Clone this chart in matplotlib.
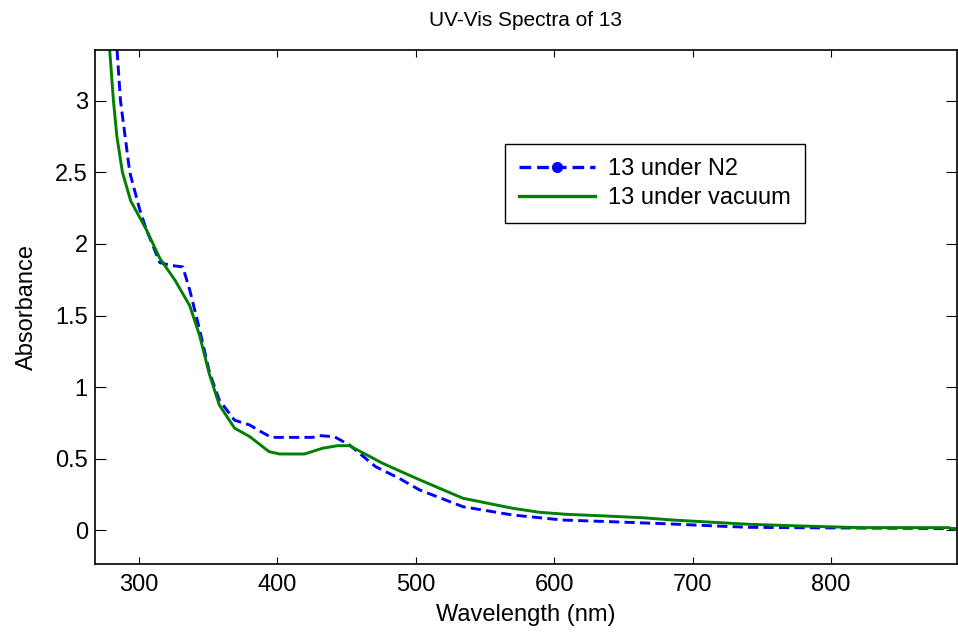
import matplotlib
matplotlib.use("Agg")
import matplotlib.pyplot as plt
from matplotlib.lines import Line2D

# UV-Vis spectra of compound 13
wl_n2 = [284.1, 286.6, 293.3, 300.5, 305.3, 315.0, 323.0, 331.6, 336.6, 343.8,
         351.0, 358.0, 369.0, 380.0, 388.0, 395.6, 410.0, 425.4, 430.5, 441.0,
         452.0, 471.0, 488.0, 502.7, 534.0, 570.0, 606.0, 642.0, 685.6, 720.0,
         741.0, 800.0, 860.0, 891.0]
abs_n2 = [3.354, 3.00, 2.50, 2.24, 2.10, 1.87, 1.85, 1.84, 1.68, 1.40,
          1.10, 0.91, 0.77, 0.736, 0.69, 0.650, 0.650, 0.650, 0.662, 0.655,
          0.597, 0.445, 0.364, 0.283, 0.166, 0.108, 0.073, 0.061, 0.045, 0.030,
          0.022, 0.018, 0.015, 0.012]

wl_vac = [278.8, 281.5, 284.0, 288.0, 294.0, 305.3, 315.0, 325.8, 336.6, 343.8,
          351.0, 358.0, 369.0, 380.0, 394.0, 401.6, 419.6, 432.6, 443.5, 452.0,
          476.0, 500.3, 534.0, 570.0, 589.3, 608.6, 637.5, 664.0, 685.6, 741.0,
          779.4, 820.0, 885.0, 891.0]
abs_vac = [3.354, 3.00, 2.75, 2.50, 2.30, 2.10, 1.90, 1.75, 1.57, 1.36,
           1.085, 0.876, 0.715, 0.655, 0.55, 0.534, 0.534, 0.574, 0.592, 0.592,
           0.469, 0.364, 0.225, 0.155, 0.127, 0.113, 0.101, 0.089, 0.073, 0.043,
           0.031, 0.020, 0.020, 0.003]

x_ticks = [300, 400, 500, 600, 700, 800]
y_ticks = [0, 0.5, 1, 1.5, 2, 2.5, 3]
y_tick_labels = ["0", "0.5", "1", "1.5", "2", "2.5", "3"]

plt.rcParams['font.family'] = ['Liberation Sans', 'DejaVu Sans']

fig = plt.figure(figsize=(9.58, 6.36), dpi=100)
ax = fig.add_axes([0.0989, 0.1132, 0.9, 0.8082])

ax.plot(wl_n2, abs_n2, color='#0000ff', linestyle=(0, (3.5, 1.8)), linewidth=2.1)
ax.plot(wl_vac, abs_vac, color='#008000', linestyle='-', linewidth=2.1)

ax.set_xlim(268, 891)
ax.set_ylim(-0.234, 3.354)
ax.set_xticks(x_ticks)
ax.set_xticklabels([str(v) for v in x_ticks])
ax.set_yticks(y_ticks)
ax.set_yticklabels(y_tick_labels)
ax.tick_params(axis='both', direction='in', top=True, right=True,
               labelsize=17, width=0.8, color='black')
ax.tick_params(axis='x', length=5, pad=7)
ax.tick_params(axis='y', length=8, pad=5)
for sp in ax.spines.values():
    sp.set_linewidth(1.2)
    sp.set_color('black')

ax.set_title('UV-Vis Spectra of 13', fontsize=15, pad=17)
ax.set_xlabel('Wavelength (nm)', fontsize=17, labelpad=6)
ax.set_ylabel('Absorbance', fontsize=17, labelpad=12)

handles = [
    Line2D([], [], color='#0000ff', linestyle=(0, (3.5, 1.8)), linewidth=2.4,
           marker='o', markersize=7),
    Line2D([], [], color='#008000', linestyle='-', linewidth=2.4),
]
leg = ax.legend(handles, ['13 under N2', '13 under vacuum'], fontsize=17,
                loc='upper left', bbox_to_anchor=(0.4758, 0.8171),
                borderaxespad=0, fancybox=False, framealpha=1,
                edgecolor='black', handlelength=3.2, handletextpad=0.55,
                labelspacing=0.3, borderpad=0.6, numpoints=1)
leg.get_frame().set_linewidth(1.0)

fig.savefig('out.png', dpi=100)
